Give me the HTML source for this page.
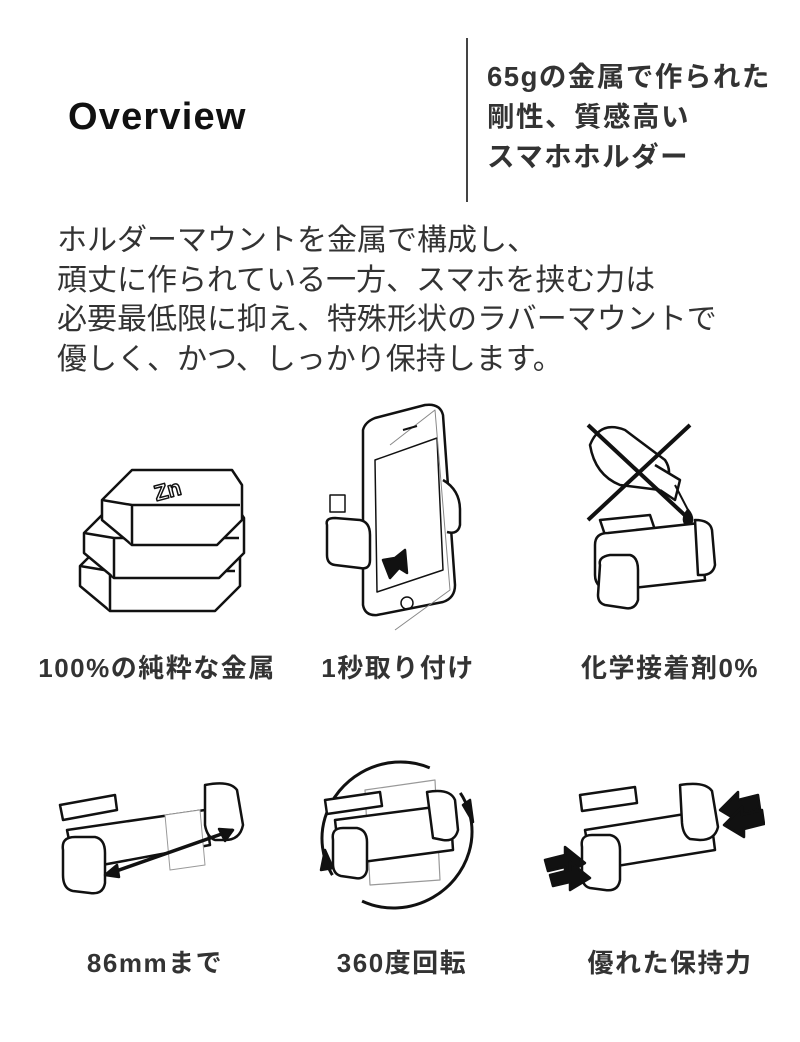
<!DOCTYPE html>
<html><head><meta charset="utf-8"><style>
html,body{margin:0;padding:0;background:#fff;}
body{width:800px;height:1042px;position:relative;overflow:hidden;font-family:"Liberation Sans","Noto Sans CJK JP",sans-serif;color:#222;}
.abs{position:absolute;}
.ov{left:68px;top:96px;font-size:38px;font-weight:bold;letter-spacing:1.2px;color:#111;}
.vl{left:466px;top:38px;width:2px;height:164px;background:#444;}
.rt{left:487px;top:57px;font-size:27.5px;font-weight:bold;line-height:40px;color:#333;letter-spacing:1.5px;}
.para{left:57px;top:221px;font-size:30px;line-height:39.5px;color:#333;}
.lab{font-size:26px;font-weight:bold;color:#333;text-align:center;width:300px;letter-spacing:1.5px;}
svg{position:absolute;}
</style></head><body>
<div class="abs ov">Overview</div>
<div class="abs vl"></div>
<div class="abs rt">65gの金属で作られた<br>剛性、質感高い<br>スマホホルダー</div>
<div class="abs para">ホルダーマウントを金属で構成し、<br>頑丈に作られている一方、スマホを挟む力は<br>必要最低限に抑え、特殊形状のラバーマウントで<br>優しく、かつ、しっかり保持します。</div>

<svg style="left:70px;top:460px" width="180" height="160" viewBox="0 0 180 160" fill="#fff" stroke="#111" stroke-width="2.5" stroke-linejoin="round">
<g transform="translate(0,66)"><path d="M10 40 L40 10 L160 10 L170 25 L170 60 L145 85 L40 85 L10 60Z"/><path d="M40 85 L40 45 L10 40 M40 45 L165 45"/></g>
<g transform="translate(4,33)"><path d="M10 40 L40 10 L160 10 L170 25 L170 60 L145 85 L40 85 L10 60Z"/><path d="M40 85 L40 45 L10 40 M40 45 L165 45"/></g>
<g transform="translate(22,0)"><path d="M10 40 L40 10 L140 10 L150 25 L150 60 L125 85 L40 85 L10 60Z"/><path d="M40 85 L40 45 L10 40 M40 45 L148 45"/><text x="62" y="38" font-size="22" font-weight="bold" fill="none" stroke="#111" stroke-width="1.5" transform="rotate(-15 75 30)">Zn</text></g>
</svg>

<svg style="left:315px;top:400px" width="170" height="235" viewBox="0 0 170 235" fill="none" stroke="#111" stroke-width="2.5" stroke-linejoin="round">
<path d="M48 30 Q50 22 60 18 L110 5 Q125 3 128 15 L140 185 Q140 198 128 202 L62 215 Q50 216 48 205Z" fill="#fff"/>
<path d="M60 60 L122 38 L128 170 L62 192Z" stroke-width="1.5"/>
<path d="M75 45 L120 10 L135 190 L80 230" stroke="#888" stroke-width="1"/>
<circle cx="92" cy="203" r="6" stroke-width="1.5"/>
<path d="M88 30 L102 26" stroke-width="2"/>
<path d="M128 80 Q145 90 145 110 L145 125 Q143 135 132 132" fill="#fff"/>
<path d="M15 95 L30 95 L30 112 L15 112Z" fill="#fff" stroke-width="1.5"/>
<path d="M12 125 Q10 118 20 118 L45 120 Q55 122 55 135 L55 160 Q55 170 45 168 L20 165 Q12 164 12 155Z" fill="#fff"/>
<path d="M68 160 L80 158 L90 150 L92 173 L84 168 L75 178Z" fill="#111"/>
</svg>

<svg style="left:580px;top:415px" width="160" height="205" viewBox="0 0 160 205" fill="#fff" stroke="#111" stroke-width="2.5" stroke-linejoin="round">
<path d="M10 30 Q20 5 45 15 L85 45 Q95 60 80 75 L40 70 Q15 60 10 30Z"/>
<path d="M75 50 L100 65 L95 85 L80 75"/>
<path d="M95 70 L108 95" stroke-width="2"/>
<path d="M108 95 Q100 105 108 112 Q116 105 108 95Z" fill="#111"/>
<path d="M8 10 L110 105 M110 10 L8 105" stroke-width="4"/>
<path d="M20 105 L70 100 L75 115 L25 120Z"/>
<path d="M15 130 Q15 118 28 118 L120 108 L125 165 L35 175 Q15 175 15 160Z"/>
<path d="M20 150 Q18 142 30 140 L50 140 Q58 142 58 155 L58 185 Q55 195 45 193 L25 190 Q18 188 18 180Z"/>
<path d="M115 105 Q130 105 132 115 L135 150 Q133 160 122 160 L118 160Z"/>
</svg>

<div class="abs lab" style="left:7px;top:648px">100%の純粋な金属</div>
<div class="abs lab" style="left:248px;top:648px">1秒取り付け</div>
<div class="abs lab" style="left:520px;top:648px">化学接着剤0%</div>

<svg style="left:55px;top:775px" width="200" height="125" viewBox="0 0 200 125" fill="#fff" stroke="#111" stroke-width="2.5" stroke-linejoin="round">
<path d="M5 30 L60 20 L62 35 L8 45Z"/>
<path d="M12 55 L150 35 L155 70 L20 95Z"/>
<path d="M110 40 L145 35 L150 90 L115 95Z" stroke="#999" stroke-width="1"/>
<path d="M150 10 Q175 5 182 15 L188 50 Q185 65 170 65 L160 65 Q152 62 150 50Z"/>
<path d="M8 75 Q6 62 20 62 L40 62 Q50 64 50 78 L50 108 Q48 120 35 118 L18 116 Q8 114 8 100Z"/>
<path d="M50 100 L178 55" stroke-width="3.5"/>
<path d="M50 100 L62 90 L64 102Z M178 55 L164 54 L170 66Z" fill="#111"/>
</svg>

<svg style="left:315px;top:750px" width="165" height="170" viewBox="0 0 165 170" fill="#fff" stroke="#111" stroke-width="2.5" stroke-linejoin="round">
<ellipse cx="82" cy="85" rx="76" ry="72" fill="none" stroke-width="3" stroke-dasharray="190 40" transform="rotate(-30 82 85)"/>
<path d="M50 40 L120 30 L125 130 L55 135Z" stroke="#999" stroke-width="1.2"/>
<path d="M10 50 L65 42 L67 56 L12 64Z"/>
<path d="M20 70 L135 55 L138 100 L25 115Z"/>
<path d="M112 42 Q135 38 140 50 L143 80 Q140 92 128 90 L118 88Z"/>
<path d="M18 90 Q16 78 28 78 L42 78 Q52 80 52 92 L52 120 Q50 130 40 128 L26 126 Q18 124 18 114Z"/>
<path d="M6 120 L10 100 L18 118Z M155 50 L158 72 L148 55Z" fill="#111"/>
</svg>

<svg style="left:540px;top:775px" width="225" height="125" viewBox="0 0 225 125" fill="#fff" stroke="#111" stroke-width="2.5" stroke-linejoin="round">
<path d="M40 20 L95 12 L97 28 L42 36Z"/>
<path d="M45 55 L170 35 L175 75 L52 95Z"/>
<path d="M140 10 Q165 6 172 16 L178 52 Q175 65 160 65 L150 64 Q143 60 142 48Z"/>
<path d="M42 72 Q40 60 52 60 L70 60 Q80 62 80 75 L80 105 Q78 117 65 115 L50 113 Q42 111 42 100Z"/>
<path d="M5 85 L25 80 L25 72 L45 88 L25 100 L25 92 L8 96Z" fill="#111"/>
<path d="M10 100 L30 95 L30 87 L50 103 L30 115 L30 107 L13 111Z" fill="#111"/>
<path d="M218 20 L198 25 L198 17 L180 35 L200 47 L200 39 L220 34Z" fill="#111"/>
<path d="M222 35 L202 40 L202 32 L184 50 L204 62 L204 54 L224 49Z" fill="#111"/>
</svg>

<div class="abs lab" style="left:5px;top:943px">86mmまで</div>
<div class="abs lab" style="left:252px;top:943px">360度回転</div>
<div class="abs lab" style="left:520px;top:943px">優れた保持力</div>
</body></html>
